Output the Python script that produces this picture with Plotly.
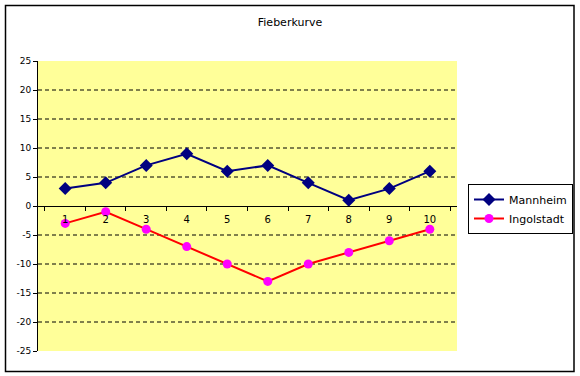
import plotly.graph_objects as go

categories = [1, 2, 3, 4, 5, 6, 7, 8, 9, 10]
mannheim = [3, 4, 7, 9, 6, 7, 4, 1, 3, 6]
ingolstadt = [-3, -1, -4, -7, -10, -13, -10, -8, -6, -4]
y_ticks = [25, 20, 15, 10, 5, 0, -5, -10, -15, -20, -25]
grid_values = [20, 15, 10, 5, -5, -10, -15, -20]

x_labels = [str(c) for c in categories]

fig = go.Figure()
fig.add_trace(go.Scatter(
    x=x_labels, y=mannheim, name="Mannheim", mode="lines+markers",
    line=dict(color="#000080", width=2),
    marker=dict(symbol="diamond", size=10, color="#000080"),
))
fig.add_trace(go.Scatter(
    x=x_labels, y=ingolstadt, name="Ingolstadt", mode="lines+markers",
    line=dict(color="#FF0000", width=2),
    marker=dict(symbol="circle", size=9, color="#FF00FF"),
))

shapes = []
for g in grid_values:
    shapes.append(dict(type="line", xref="paper", yref="y", x0=0, x1=1, y0=g, y1=g,
                       line=dict(color="black", width=1, dash="4px,3px"), layer="below"))
# outer chart border
shapes.append(dict(type="rect", xref="paper", yref="paper",
                   x0=(5.5 - 38) / 419, x1=(574 - 38) / 419,
                   y0=(351 - 371.5) / 290, y1=(351 - 5.5) / 290,
                   line=dict(color="black", width=1.5), fillcolor="rgba(0,0,0,0)"))

fig.update_layout(
    width=580, height=376,
    margin=dict(l=38, r=123, t=61, b=25, autoexpand=False),
    paper_bgcolor="white",
    plot_bgcolor="#FFFF99",
    font=dict(family="DejaVu Sans", color="black", size=9),
    title=dict(text="Fieberkurve", x=290 / 580, xanchor="center", xref="container",
               y=1 - 22 / 376, yanchor="middle", yref="container",
               font=dict(size=11, family="DejaVu Sans", color="black")),
    showlegend=True,
    legend=dict(x=(468 - 38) / 419, y=(351 - 184) / 290, xanchor="left", yanchor="top",
                bordercolor="black", borderwidth=1, bgcolor="white",
                font=dict(size=11, family="DejaVu Sans", color="black"),
                itemwidth=30, tracegroupgap=2),
    shapes=shapes,
    xaxis=dict(type="category", anchor="free", position=0.5,
               showline=True, linecolor="black", linewidth=1,
               ticks="outside", ticklen=4, tickcolor="black", tickson="boundaries",
               ticklabelstandoff=4,
               showgrid=False, zeroline=False, fixedrange=True,
               tickfont=dict(size=10)),
    yaxis=dict(range=[-25, 25], tickvals=y_ticks, ticktext=[str(v) for v in y_ticks],
               showline=True, linecolor="black", linewidth=1,
               ticks="outside", ticklen=4, tickcolor="black",
               showgrid=False, zeroline=False, fixedrange=True,
               tickfont=dict(size=9)),
)

fig.write_html("out.html", config={"displayModeBar": False},
               post_script="document.body.style.margin='0';document.body.style.overflow='hidden';")
